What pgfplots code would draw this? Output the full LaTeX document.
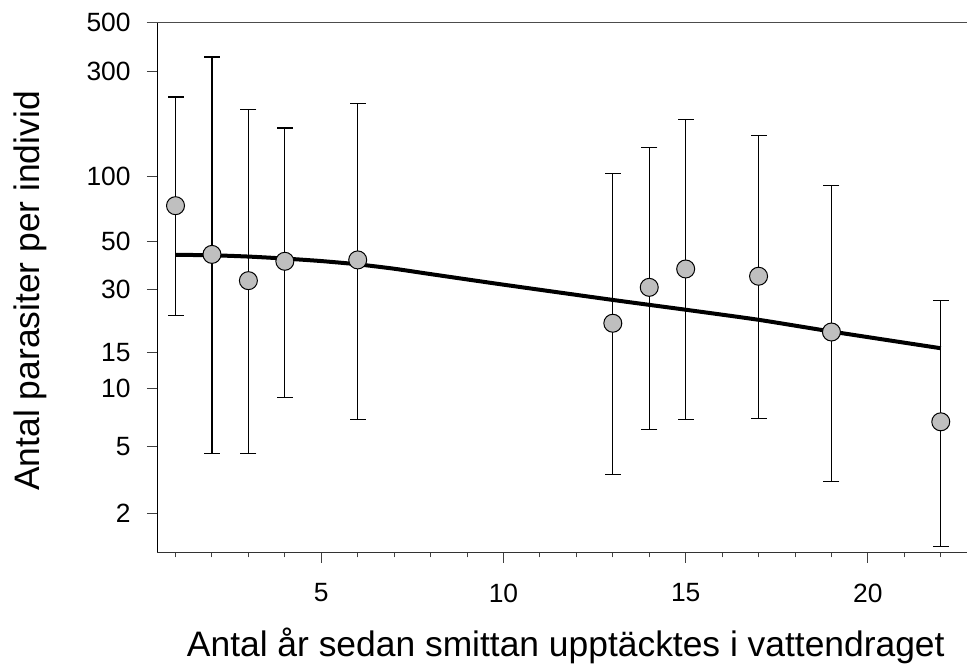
\documentclass[border=0pt]{standalone}
\usepackage{pgfplots}
\pgfplotsset{compat=1.18}
\usepackage{fontspec}
\setmainfont{Liberation Sans}
\begin{document}
\begin{tikzpicture}
\begin{axis}[
  scale only axis,
  width=404.85pt, height=264.8pt,
  xmin=0.5, xmax=22.72,
  ymin=1, ymax=500,
  y coord trafo/.code={\pgfmathparse{log10(#1+1)}},
  y coord inv trafo/.code={\pgfmathparse{10^(#1)-1}},
  axis x line*=bottom, axis y line*=left,
  x axis line style={black!80, line width=0.6pt},
  y axis line style={black, line width=0.5pt},
  tick align=outside,
  xtick={5,10,15,20},
  xticklabels={5,10,15,20},
  minor xtick={1,2,...,22},
  ytick={2,5,10,15,30,50,100,300,500},
  yticklabels={2,5,10,15,30,50,100,300,500},
  major tick length=5.25pt, minor tick length=2.5pt,
  tick style={black!75, line width=0.5pt},
  /pgf/number format/assume math mode=true,
  tick label style={font=\fontsize{13.2}{15}\selectfont, inner sep=0pt},
  xticklabel style={anchor=north, yshift=-10.25pt},
  yticklabel style={anchor=east, xshift=-7.9pt},
  xlabel={Antal år sedan smittan upptäcktes i vattendraget},
  ylabel={Antal parasiter per individ},
  label style={font=\fontsize{17.7}{20}\selectfont, inner sep=0pt},
  xlabel style={at={(axis description cs:0.5045,0)}, anchor=base, yshift=-52.2pt},
  ylabel style={at={(axis description cs:0,0.4936)}, anchor=base, yshift=59pt},
  after end axis/.code={
    \draw[black!70, line width=0.8pt] ([xshift=-5.25pt]rel axis cs:0,1) -- (rel axis cs:1,1);
  },
]
% error bars (lower, upper)
\addplot[black, line width=0.65pt, mark=-, mark size=4pt, unbounded coords=jump] coordinates {
(1,22.6) (1,230) (nan,1)
(2,4.6) (2,349) (nan,1)
(3,4.6) (3,201.6) (nan,1)
(4,9.05) (4,166) (nan,1)
(6,7.0) (6,215) (nan,1)
(13,3.5) (13,102.8) (nan,1)
(14,6.2) (14,135) (nan,1)
(15,7.0) (15,181) (nan,1)
(17,7.1) (17,153) (nan,1)
(19,3.2) (19,91) (nan,1)
(22,1.13) (22,26.6)
};
% fitted curve
\addplot[black, line width=2pt, mark=none, smooth, tension=0.4] coordinates {
(1,43.5) (2,43.3) (3,42.7) (4,41.8) (5,40.7) (6,39.3) (7,37.5) (8,35.4)
(10,31.6) (13,26.8) (15,24.1) (17,21.6) (19,19.0) (22,15.8)
};
% means
\addplot[only marks, mark=*, mark size=4.5pt, mark options={fill=black!25, draw=black, line width=0.5pt}] coordinates {
(1,73.3) (2,43.7) (3,33.0) (4,40.6) (6,41.2) (13,20.8) (14,30.7) (15,37.4) (17,34.6) (19,18.9) (22,6.8)
};
\end{axis}
\pgfresetboundingbox
\useasboundingbox (-78.65pt,-55.85pt) rectangle (404.85pt,276.15pt);
\end{tikzpicture}
\end{document}
